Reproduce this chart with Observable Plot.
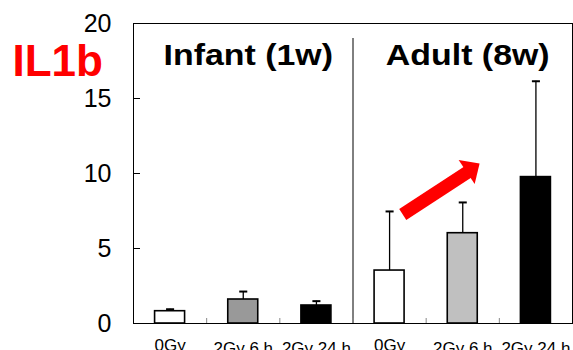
<!DOCTYPE html>
<html><head><meta charset="utf-8">
<script src="https://cdn.jsdelivr.net/npm/d3@7"></script>
<script src="https://cdn.jsdelivr.net/npm/@observablehq/plot@0.6"></script>
<style>body{margin:0;background:#fff}#chart svg{display:block}</style>
</head><body><div id="chart"></div>
<script>
const categories = ["0Gy", "2Gy 6 h", "2Gy 24 h", "0Gy", "2Gy 6 h", "2Gy 24 h"];
const means = [0.82, 1.6, 1.2, 3.53, 6.02, 9.76];
const upperErrors = [0.13, 0.53, 0.29, 3.94, 2.05, 6.39];
const groups = ["Infant (1w)", "Adult (8w)"];
const groupCenters = [1, 4];
const yTicks = [0, 5, 10, 15, 20];
const title = "IL1b";
// trend arrow annotation (data coordinates): tail -> head base -> tip
const arrowTail = {x: 3.18, y: 7.27};
const arrowBase = {x: 4.07, y: 10.1};
const arrowTip = {x: 4.23, y: 10.67};

// styles
const barFills = ["#ffffff", "#999999", "#000000", "#ffffff", "#c0c0c0", "#000000"];
const W = 573, H = 350, mL = 133, mR = 1, mT = 23, mB = 27;
const halfBar = 0.205, halfCap = 0.055;

const rows = categories.map((c, i) => ({i, c, mean: means[i], err: upperErrors[i]}));
const idx = categories.map((c, i) => i);
const boundaries = idx.slice(0, -1).map(i => i + 0.5);
const divider = categories.length / 2 - 0.5;

const pxX = (W - mL - mR) / categories.length, pxY = (H - mT - mB) / 20;
const headAngle = Math.atan2((arrowTip.x - arrowTail.x) * pxX, (arrowTip.y - arrowTail.y) * pxY) * 180 / Math.PI;
const headSymbol = {draw(ctx) { ctx.moveTo(0, 0); ctx.lineTo(14.5, 15.5); ctx.lineTo(-14.5, 15.5); ctx.closePath(); }};

const plot = Plot.plot({
  width: W, height: H,
  marginLeft: mL, marginRight: mR, marginTop: mT, marginBottom: mB,
  style: {fontFamily: "'Liberation Sans', Arial, sans-serif", color: "black", background: "white"},
  x: {type: "linear", domain: [-0.5, categories.length - 0.5]},
  y: {domain: [0, 20]},
  marks: [
    Plot.ruleX([divider], {y1: 0, y2: 19, stroke: "black", strokeWidth: 1}),
    Plot.ruleX(rows, {x: "i", y1: "mean", y2: d => d.mean + d.err, stroke: "black", strokeWidth: 1.3}),
    Plot.link(rows, {x1: d => d.i - halfCap, x2: d => d.i + halfCap, y1: d => d.mean + d.err, y2: d => d.mean + d.err, stroke: "black", strokeWidth: 2}),
    Plot.rect(rows, {x1: d => d.i - halfBar, x2: d => d.i + halfBar, y1: 0, y2: "mean", fill: d => barFills[d.i], stroke: "black", strokeWidth: 1.6}),
    Plot.link([0], {x1: () => arrowTail.x, y1: () => arrowTail.y, x2: () => arrowBase.x, y2: () => arrowBase.y, stroke: "#ff0000", strokeWidth: 13}),
    Plot.dot([0], {x: () => arrowTip.x, y: () => arrowTip.y, symbol: headSymbol, rotate: headAngle, fill: "#ff0000", stroke: "none"}),
    Plot.text(groups, {x: (d, i) => groupCenters[i], y: 17.25, text: d => d, dx: 5, fontSize: 30, fontWeight: "bold", lineAnchor: "bottom", fill: "black"}),
    Plot.text([title], {frameAnchor: "top-left", text: d => d, dx: 12 - mL, dy: 75 - mT, textAnchor: "start", lineAnchor: "bottom", fontSize: 44, fontWeight: "bold", fill: "#ff0000"}),
    Plot.axisY({ticks: yTicks, tickSize: 0, tickPadding: 22, fontSize: 25, tickFormat: d => String(d), label: null}),
    Plot.axisY({ticks: yTicks.slice(1, -1), tickSize: -7, tickFormat: () => "", label: null}),
    Plot.axisX({ticks: boundaries, tickSize: -5, tickFormat: () => "", stroke: "#888", label: null}),
    Plot.axisX({ticks: idx.filter(i => categories[i] === "0Gy"), tickSize: 0, tickPadding: 15, fontSize: 17, tickFormat: i => categories[i], label: null}),
    Plot.axisX({ticks: idx.filter(i => categories[i] !== "0Gy"), tickSize: 0, tickPadding: 18, fontSize: 17, tickFormat: i => categories[i], label: null}),
    Plot.frame({stroke: "black", strokeWidth: 1})
  ]
});
d3.select(plot).selectAll("text").filter(function () { return groups.includes(this.textContent); })
  .attr("transform", function () { return (d3.select(this).attr("transform") || "") + " scale(1.13,1)"; });
document.getElementById("chart").appendChild(plot);
</script>
</body></html>
